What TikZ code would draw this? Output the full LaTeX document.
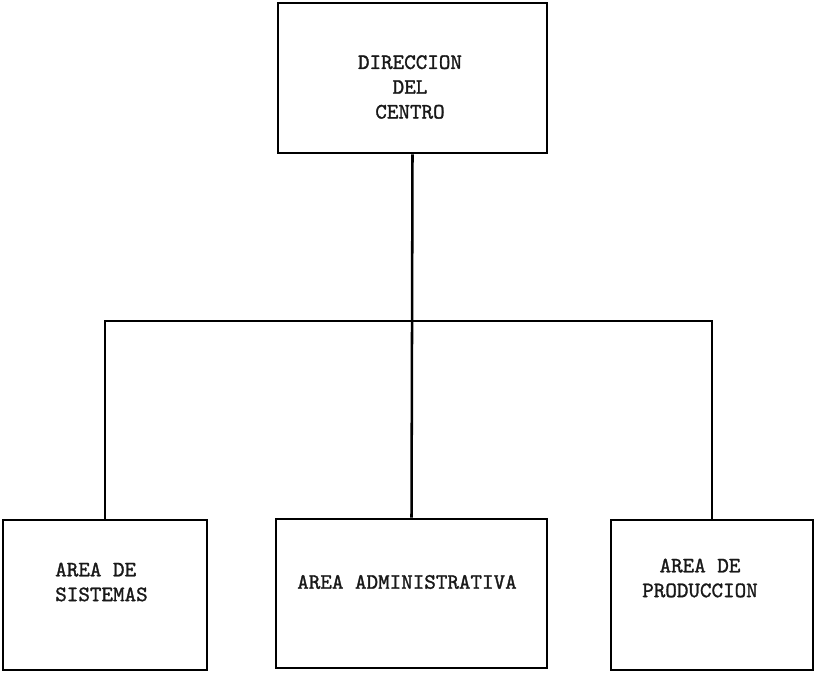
\documentclass[tikz,border=0pt]{standalone}
\usepackage{fontspec}
\newfontfamily\tw{lmmono10-regular}[Extension=.otf, FakeBold=1.3]
\begin{document}
\begin{tikzpicture}[x=0.75pt,y=-0.75pt,
  box/.style={draw=black, line width=1.9pt, inner sep=0pt, fill=none},
  lbl/.style={font=\tw\fontsize{16.5}{18.6}\selectfont, inner sep=0pt, text=black!90},
  conn/.style={draw=black, line width=1.9pt}]
\useasboundingbox[fill=white] (0,0) rectangle (817,672);
% boxes
\node[box, minimum width=201.75pt, minimum height=112.5pt] (top) at (412.5,78) {};
\node[box, minimum width=153pt, minimum height=112.5pt] (left) at (105,595) {};
\node[box, minimum width=203.25pt, minimum height=111.75pt] (mid) at (411.5,593.5) {};
\node[box, minimum width=151.5pt, minimum height=112.5pt] (right) at (712,595) {};
% texts
\node[lbl, align=center] (ttop) at (410,87) {DIRECCION\\DEL\\CENTRO};
\node[lbl, align=left, anchor=west] (tleft) at (55,582) {AREA DE\\SISTEMAS};
\node[lbl] (tmid) at (407,582) {AREA ADMINISTRATIVA};
\node[lbl, align=center] (tright) at (700,578) {AREA DE\\PRODUCCION};
% connectors
\coordinate (jr) at (712,321);
\draw[conn] (top.south) -- (mid.north);
\draw[conn] (left.north) |- (jr) -- (right.north);
\end{tikzpicture}
\end{document}
